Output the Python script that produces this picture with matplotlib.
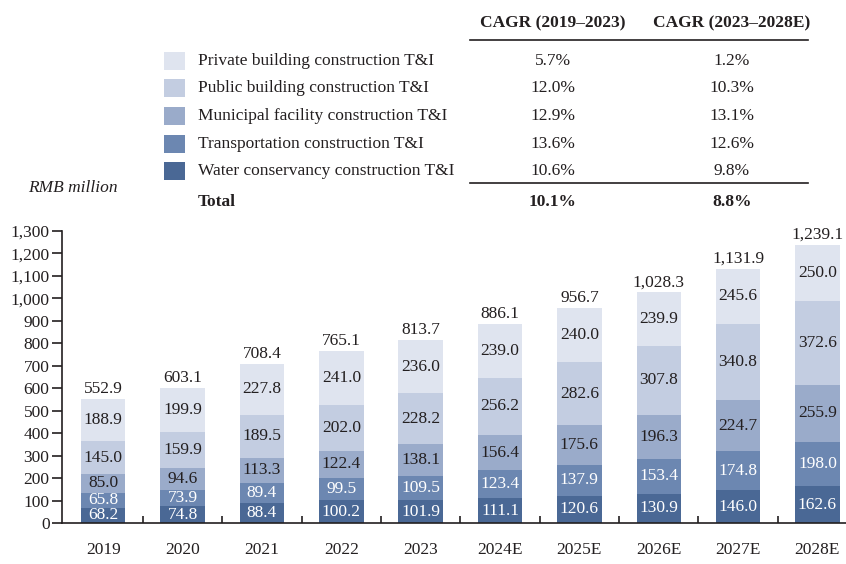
import matplotlib

matplotlib.use("Agg")
import matplotlib.pyplot as plt
from matplotlib.patches import Rectangle
from matplotlib.ticker import FixedLocator, FuncFormatter

years = ["2019", "2020", "2021", "2022", "2023",
         "2024E", "2025E", "2026E", "2027E", "2028E"]
water = [68.2, 74.8, 88.4, 100.2, 101.9, 111.1, 120.6, 130.9, 146.0, 162.6]
transport = [65.8, 73.9, 89.4, 99.5, 109.5, 123.4, 137.9, 153.4, 174.8, 198.0]
municipal = [85.0, 94.6, 113.3, 122.4, 138.1, 156.4, 175.6, 196.3, 224.7, 255.9]
public = [145.0, 159.9, 189.5, 202.0, 228.2, 256.2, 282.6, 307.8, 340.8, 372.6]
private = [188.9, 199.9, 227.8, 241.0, 236.0, 239.0, 240.0, 239.9, 245.6, 250.0]
totals = [552.9, 603.1, 708.4, 765.1, 813.7, 886.1, 956.7, 1028.3, 1131.9, 1239.1]

series_names = ["Private building construction T&I",
                "Public building construction T&I",
                "Municipal facility construction T&I",
                "Transportation construction T&I",
                "Water conservancy construction T&I"]
cagr_1923 = ["5.7%", "12.0%", "12.9%", "13.6%", "10.6%"]
cagr_2328 = ["1.2%", "10.3%", "13.1%", "12.6%", "9.8%"]
total_cagr = ["10.1%", "8.8%"]

plt.rcParams["font.family"] = ["Liberation Serif", "DejaVu Serif"]

colors = {"water": "#4a6895", "transport": "#6c87b1", "municipal": "#9aabca",
          "public": "#c3cde1", "private": "#dfe4ef"}
txt = "#231f20"

fig = plt.figure(figsize=(8.46, 5.64), dpi=100)
ax = fig.add_axes([62 / 846, 41 / 564, 784 / 846, 292 / 564])

x = list(range(len(years)))
width = 0.56
stack = [("water", water, "white"), ("transport", transport, "white"),
         ("municipal", municipal, txt), ("public", public, txt),
         ("private", private, txt)]
bottom = [0.0] * len(years)
for key, vals, tcol in stack:
    ax.bar(x, vals, width, bottom=bottom, color=colors[key], linewidth=0)
    for i, v in enumerate(vals):
        ax.text(i, bottom[i] + v / 2, f"{v:.1f}", ha="center", va="center",
                fontsize=12.5, color=tcol)
    bottom = [b + v for b, v in zip(bottom, vals)]

for i, t in enumerate(totals):
    ax.text(i, bottom[i] + 8, f"{t:,.1f}", ha="center", va="bottom",
            fontsize=12.5, color=txt)

ax.set_xlim(-0.52, 9.36)
ax.set_ylim(0, 1300)
ax.yaxis.set_major_locator(FixedLocator(range(0, 1301, 100)))
ax.yaxis.set_major_formatter(FuncFormatter(lambda v, p: f"{int(v):,}"))
ax.tick_params(axis="y", labelsize=12.5, colors=txt, length=7, width=1.2, pad=2)
ax.set_xticks([i + 0.5 for i in range(len(years) - 1)])
ax.set_xticklabels([])
ax.tick_params(axis="x", direction="in", length=5, width=1.2, colors=txt)
for i, y in enumerate(years):
    ax.text(i, -0.094, y, transform=ax.get_xaxis_transform(), ha="center",
            va="center", fontsize=12.5, color=txt)
for s in ["top", "right"]:
    ax.spines[s].set_visible(False)
for s in ["left", "bottom"]:
    ax.spines[s].set_color(txt)
    ax.spines[s].set_linewidth(1.2)

# legend / CAGR table in figure pixel coordinates
W, H = 846, 564
def fx(px):
    return px / W
def fy(py):
    return 1 - py / H

legend_colors = [colors["private"], colors["public"], colors["municipal"],
                 colors["transport"], colors["water"]]
rows_y = [61, 88, 116, 144, 171]
for name, c, y, a, b in zip(series_names, legend_colors, rows_y, cagr_1923, cagr_2328):
    fig.patches.append(Rectangle((fx(164), fy(y + 9)), 21 / W, 18 / H,
                                 transform=fig.transFigure, color=c, lw=0))
    fig.text(fx(198), fy(y), name, ha="left", va="center", fontsize=12.5, color=txt)
    fig.text(fx(553), fy(y), a, ha="center", va="center", fontsize=12.5, color=txt)
    fig.text(fx(732), fy(y), b, ha="center", va="center", fontsize=12.5, color=txt)

fig.text(fx(198), fy(202), "Total", ha="left", va="center", fontsize=12.5,
         fontweight="bold", color=txt)
fig.text(fx(553), fy(202), total_cagr[0], ha="center", va="center", fontsize=12.5,
         fontweight="bold", color=txt)
fig.text(fx(732), fy(202), total_cagr[1], ha="center", va="center", fontsize=12.5,
         fontweight="bold", color=txt)
fig.text(fx(553), fy(23), "CAGR (2019–2023)", ha="center", va="center",
         fontsize=12.5, fontweight="bold", color=txt)
fig.text(fx(732), fy(23), "CAGR (2023–2028E)", ha="center", va="center",
         fontsize=12.5, fontweight="bold", color=txt)
for y in [40, 183]:
    fig.add_artist(plt.Line2D([fx(470), fx(808)], [fy(y), fy(y)],
                              transform=fig.transFigure, color=txt, lw=1.2))

fig.text(fx(28), fy(188), "RMB million", ha="left", va="center", fontsize=12.5,
         style="italic", color=txt)

fig.savefig("out.png", dpi=100)
